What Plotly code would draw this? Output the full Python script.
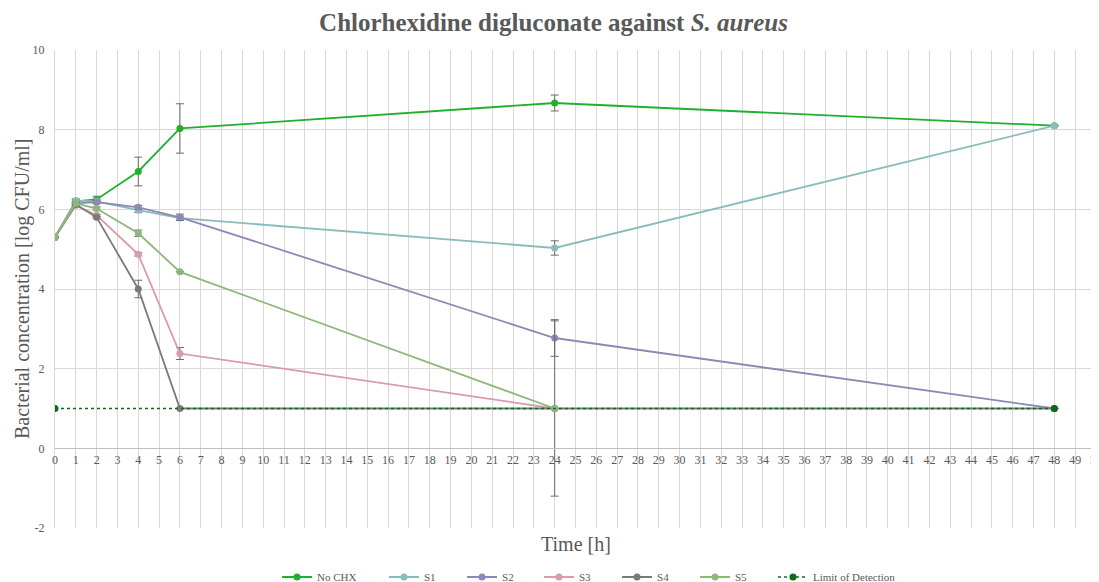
import plotly.graph_objects as go

time_pts = [0, 1, 2, 4, 6, 24, 48]

no_chx = [5.3, 6.2, 6.25, 6.95, 8.03, 8.67, 8.1]
no_chx_err = [0.0, 0.05, 0.08, 0.36, 0.62, 0.2, 0.0]

s1 = [5.3, 6.22, 6.2, 5.98, 5.78, 5.03, 8.1]
s1_err = [0.0, 0.04, 0.05, 0.06, 0.05, 0.18, 0.0]

s2 = [5.3, 6.15, 6.18, 6.05, 5.8, 2.77, 1.0]
s2_err = [0.0, 0.03, 0.04, 0.05, 0.08, 0.46, 0.0]

s3_time = [0, 1, 2, 4, 6, 24]
s3 = [5.3, 6.1, 5.85, 4.87, 2.38, 1.0]
s3_err = [0.0, 0.03, 0.03, 0.04, 0.15, 0.0]

s4_time = [0, 1, 2, 4, 6, 24, 48]
s4 = [5.3, 6.12, 5.8, 4.0, 1.0, 1.0, 1.0]
s4_err = [0.0, 0.03, 0.03, 0.22, 0.0, 2.2, 0.0]

s5_time = [0, 1, 2, 4, 6, 24]
s5 = [5.3, 6.15, 6.02, 5.4, 4.43, 1.0]
s5_err = [0.0, 0.03, 0.04, 0.08, 0.0, 0.0]

lod_time = [0, 48]
lod = [1.0, 1.0]

y_tickvals = [-2, 0, 2, 4, 6, 8, 10]
y_ticktext = ["-2", "0", "2", "4", "6", "8", "10"]

series = [
    ("No CHX", time_pts, no_chx, no_chx_err, "#1fb02e"),
    ("S1", time_pts, s1, s1_err, "#8bbcbc"),
    ("S2", time_pts, s2, s2_err, "#8d89b6"),
    ("S3", s3_time, s3, s3_err, "#d99aaa"),
    ("S4", s4_time, s4, s4_err, "#7a7a7a"),
    ("S5", s5_time, s5, s5_err, "#8cb87a"),
]

FONT = "Liberation Serif"
GREY = "#595959"

# legend entry positions (paper fraction of plot width)
legend_x = [0.2133, 0.3160, 0.3910, 0.4649, 0.5399, 0.6148, 0.6897]
legend_ids = ["legend"] + ["legend%d" % i for i in range(2, 8)]

fig = go.Figure()
for i, (name, xs, ys, err, color) in enumerate(series):
    fig.add_trace(go.Scatter(
        x=xs, y=ys, name=name, mode="lines+markers",
        line=dict(color=color, width=1.8),
        marker=dict(color=color, size=7),
        error_y=dict(type="data", array=err, visible=True, color="#6b6b6b",
                     thickness=1, width=4),
        legend=legend_ids[i],
    ))

fig.add_trace(go.Scatter(
    x=lod_time, y=lod, name="Limit of Detection", mode="lines+markers",
    line=dict(color="#0b6b1a", width=1.5, dash="dot"),
    marker=dict(color="#0b6b1a", size=7),
    legend=legend_ids[6],
))

legend_layout = {}
for lid, lx in zip(legend_ids, legend_x):
    legend_layout[lid] = dict(orientation="h", x=lx, xanchor="left", y=-0.1025,
                              yanchor="middle", bgcolor="rgba(0,0,0,0)",
                              font=dict(family=FONT, size=11, color=GREY),
                              itemwidth=30)

fig.update_layout(
    width=1091, height=574,
    paper_bgcolor="white", plot_bgcolor="white",
    margin=dict(l=47, r=3, t=42, b=54, autoexpand=False),
    font=dict(family=FONT, color=GREY, size=12),
    title=dict(text="<b>Chlorhexidine digluconate against <i>S. aureus</i></b>",
               x=0.5, xanchor="center", y=0.9756, yanchor="middle",
               font=dict(family=FONT, size=25, color=GREY)),
    showlegend=True,
    xaxis=dict(range=[0, 50], dtick=1, tick0=0, showgrid=True, gridcolor="#d9d9d9",
               gridwidth=1, zeroline=False, showline=True, linecolor="#bfbfbf",
               anchor="free", position=2/12, ticks="", ticklen=0, automargin=False,
               ticklabeloverflow="allow",
               tickfont=dict(family=FONT, size=12, color=GREY)),
    yaxis=dict(range=[-2, 10], tickvals=y_tickvals, ticktext=y_ticktext,
               showgrid=True, gridcolor="#d9d9d9",
               gridwidth=1, zeroline=False, showline=True, linecolor="#d9d9d9",
               ticks="", automargin=False, ticklabelstandoff=7,
               tickfont=dict(family=FONT, size=12, color=GREY)),
    annotations=[
        dict(text="Time [h]", xref="paper", yref="paper", x=0.5, y=-0.033,
             xanchor="center", yanchor="middle", showarrow=False,
             font=dict(family=FONT, size=20, color=GREY)),
        dict(text="Bacterial concentration [log CFU/ml]", xref="paper", yref="paper",
             x=0, xshift=-33, y=0.5, xanchor="center", yanchor="middle",
             textangle=-90, showarrow=False,
             font=dict(family=FONT, size=20, color=GREY)),
    ],
    **legend_layout,
)

fig.write_html("out.html")
